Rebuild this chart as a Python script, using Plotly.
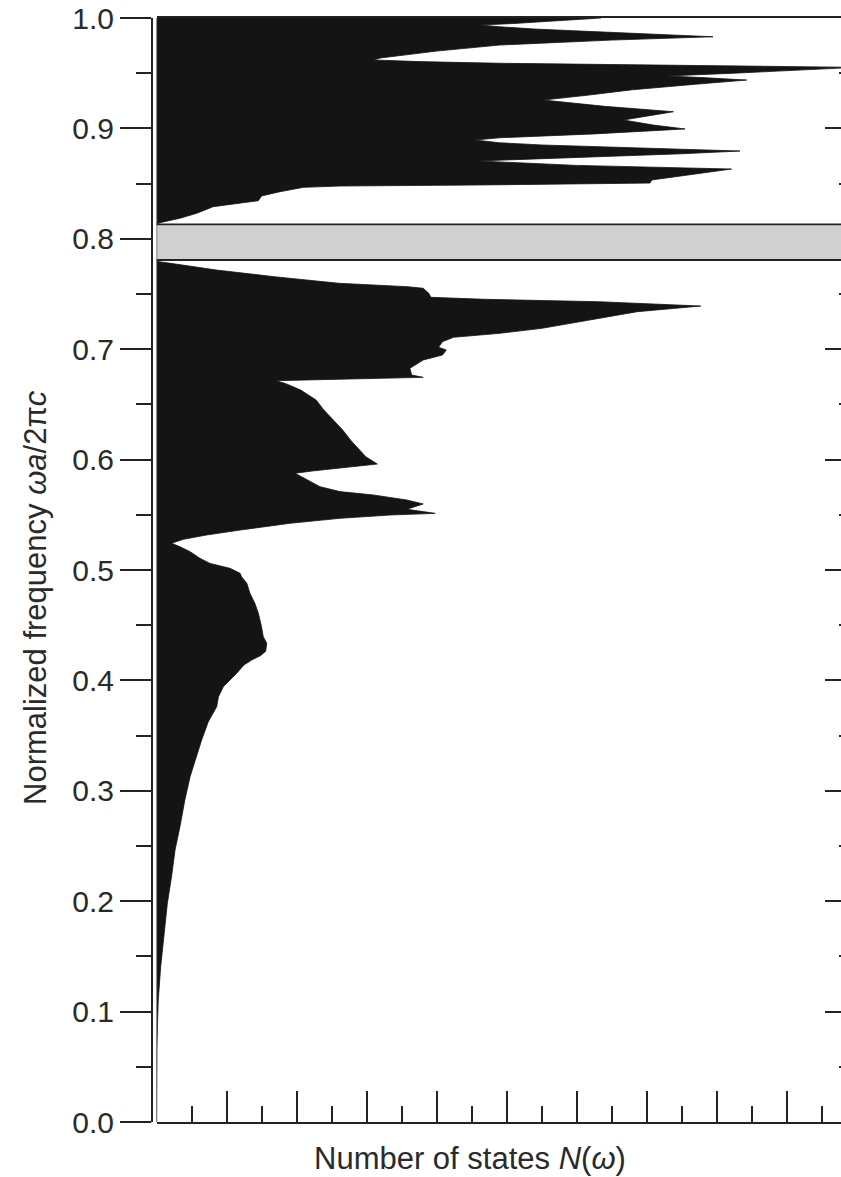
import plotly.graph_objects as go

# Density of states of a 2D photonic crystal: frequency (y) vs. number of states (x)

# Band below the gap: normalized frequency and number of states
freq_low = [0.000, 0.030, 0.065, 0.090, 0.1105, 0.1407, 0.1709, 0.1981, 0.2222, 0.2464,
            0.2675, 0.2917, 0.3128, 0.3279, 0.3460, 0.3626, 0.3762, 0.3852, 0.3943, 0.4064,
            0.4140, 0.4185, 0.4225, 0.4265, 0.4336, 0.4396, 0.4487, 0.4608, 0.4698, 0.4789, 0.4880,
            0.4939, 0.4970, 0.5015, 0.5060, 0.5106, 0.5166, 0.5211, 0.5242, 0.5278, 0.5317,
            0.5362, 0.5423, 0.5468, 0.5498, 0.5513, 0.5550, 0.5598, 0.5634, 0.5680, 0.5710,
            0.5755, 0.5815, 0.5876, 0.5897, 0.5920, 0.5960, 0.6026, 0.6087, 0.6178, 0.6268,
            0.6359, 0.6450, 0.6540, 0.6630, 0.6690, 0.6715, 0.6745, 0.6766, 0.6827, 0.6902,
            0.6947, 0.6993, 0.7017, 0.7068, 0.7108, 0.7144, 0.7189, 0.7264, 0.7340, 0.7391,
            0.7430, 0.7452, 0.7470, 0.7506, 0.7552, 0.7566, 0.7597, 0.7657, 0.7717, 0.7778,
            0.7793, 0.7808]
states_low = [0.00, 0.00, 0.01, 0.03, 0.05, 0.12, 0.21, 0.31, 0.43, 0.53,
              0.67, 0.81, 0.96, 1.10, 1.29, 1.48, 1.72, 1.77, 1.91, 2.29,
              2.50, 2.72, 2.98, 3.12, 3.15, 3.05, 3.00, 2.91, 2.81, 2.67, 2.58,
              2.43, 2.39, 2.10, 1.53, 1.24, 0.96, 0.67, 0.43, 0.77, 1.43,
              2.39, 3.81, 5.24, 6.67, 7.96, 7.15, 7.62, 7.15, 6.19, 5.24,
              4.67, 4.30, 3.96, 4.45, 5.21, 6.31, 5.98, 5.81, 5.54, 5.32,
              5.05, 4.78, 4.56, 4.12, 3.68, 3.41, 7.62, 7.29, 7.24, 7.62,
              8.17, 8.28, 8.06, 8.17, 8.49, 9.81, 11.01, 12.43, 13.74, 15.55,
              12.65, 9.37, 7.84, 7.78, 7.62, 7.18, 5.21, 3.36, 1.71, 0.40,
              0.07, 0.00]

# Band above the gap
freq_high = [0.8131, 0.8146, 0.8186, 0.8231, 0.8291, 0.8321, 0.8345, 0.8388, 0.8427, 0.8466,
             0.8478, 0.8487, 0.8496, 0.8505, 0.8533, 0.8580, 0.8632, 0.8665, 0.8698, 0.8705,
             0.8712, 0.8740, 0.8770, 0.8795, 0.8820, 0.8850, 0.8870, 0.8895, 0.8915, 0.8950,
             0.8995, 0.9030, 0.9076, 0.9110, 0.9151, 0.9200, 0.9257, 0.9300, 0.9350, 0.9400,
             0.9438, 0.9460, 0.9475, 0.9500, 0.9520, 0.9550, 0.9555, 0.9570, 0.9590, 0.9605,
             0.9620, 0.9638, 0.9700, 0.9755, 0.9800, 0.9830, 0.9860, 0.9900, 0.9921, 0.9937,
             0.9950, 0.9980, 1.0000]
states_high = [0.00, 0.10, 0.67, 1.15, 1.62, 2.39, 2.91, 3.00, 3.53, 4.20,
               5.24, 9.05, 10.96, 14.10, 14.15, 15.30, 16.43, 12.00, 9.80, 9.20,
               9.80, 12.50, 15.00, 16.67, 14.00, 11.00, 9.80, 9.10, 9.80, 12.50,
               15.10, 14.20, 13.34, 14.00, 14.77, 12.80, 11.05, 12.30, 13.60, 15.40,
               16.86, 15.60, 14.58, 16.50, 18.00, 19.80, 19.50, 15.00, 9.80, 7.50,
               6.20, 6.40, 8.00, 9.80, 13.00, 15.90, 13.50, 10.80, 9.80, 9.24,
               10.20, 11.80, 12.70]

# Complete photonic band gap
GAP_LOW = 0.7808
GAP_HIGH = 0.8131

y_ticks = [0.0, 0.1, 0.2, 0.3, 0.4, 0.5, 0.6, 0.7, 0.8, 0.9, 1.0]
y_ticktext = ["0.0", "0.1", "0.2", "0.3", "0.4", "0.5", "0.6", "0.7", "0.8", "0.9", "1.0"]

W, H = 841, 1177
M_T, M_B = 18, 55
PLOT_LEFT_PX = 156.5
YAXIS_PX = 152
X_MAX = (W - PLOT_LEFT_PX) / 35.0

FONT = "Liberation Sans, Arial, Helvetica, sans-serif"
INK = "#141414"
AXC = "#222222"
TXT = "#2a2a2a"

fig = go.Figure()

fig.add_trace(go.Scatter(
    x=states_low, y=freq_low, mode="lines", fill="tozerox",
    fillcolor=INK, line=dict(color=INK, width=0.8), hoverinfo="skip",
    showlegend=False, yaxis="y"))

fig.add_trace(go.Scatter(
    x=states_high, y=freq_high, mode="lines", fill="tozerox",
    fillcolor=INK, line=dict(color=INK, width=0.8), hoverinfo="skip",
    showlegend=False, yaxis="y2"))

# gap band: grey fill, edges along both band limits, running off the right side
fig.add_shape(type="rect", xref="x", yref="y", x0=0, x1=X_MAX, y0=GAP_LOW, y1=GAP_HIGH,
              fillcolor="#d0d0d0", line=dict(width=0), layer="above")
for edge in (GAP_LOW, GAP_HIGH):
    fig.add_shape(type="line", xref="x", yref="y", x0=0, x1=X_MAX, y0=edge, y1=edge,
                  line=dict(color=AXC, width=1.8), layer="above")
# inner frame line at zero states
fig.add_shape(type="line", xref="x", yref="y", x0=0, x1=0, y0=0, y1=1,
              line=dict(color="#555555", width=1.4), layer="above")

fig.update_layout(
    width=W, height=H,
    margin=dict(l=0, r=0, t=M_T, b=M_B),
    paper_bgcolor="white", plot_bgcolor="white",
    font=dict(family=FONT, color=AXC, size=30),
    xaxis=dict(
        domain=[PLOT_LEFT_PX / W, 1.0], range=[0, X_MAX],
        showgrid=False, zeroline=False, showline=True, linecolor=AXC, linewidth=2,
        mirror=True, ticks="inside", ticklen=31, tickwidth=2, tickcolor=AXC,
        tick0=0, dtick=2, showticklabels=False,
        minor=dict(ticks="inside", ticklen=16, tickwidth=2, tickcolor=AXC, dtick=1, tick0=0),
    ),
    yaxis=dict(
        anchor="free", position=YAXIS_PX / W, range=[0, 1],
        showgrid=False, zeroline=False, showline=True, linecolor=AXC, linewidth=2,
        ticks="outside", ticklen=31, tickwidth=2, tickcolor=AXC,
        tickmode="array", tickvals=y_ticks, ticktext=y_ticktext,
        tickfont=dict(size=30, color=TXT),
        minor=dict(ticks="outside", ticklen=15, tickwidth=2, tickcolor=AXC, dtick=0.05, tick0=0),
    ),
    yaxis2=dict(
        overlaying="y", side="right", anchor="x", range=[0, 1],
        showgrid=False, zeroline=False, showline=False,
        ticks="inside", ticklen=16, tickwidth=2, tickcolor=AXC,
        tickmode="array", tickvals=y_ticks, showticklabels=False,
        minor=dict(ticks="inside", ticklen=2, tickwidth=2, tickcolor=AXC, dtick=0.05, tick0=0),
    ),
)

fig.add_annotation(
    text="Number of states <i>N</i>(<i>ω</i>)", xref="paper", yref="paper",
    x=470 / W, y=(H - M_B - 1158) / (H - M_T - M_B),
    xanchor="center", yanchor="middle", showarrow=False,
    font=dict(size=31, color=TXT, family=FONT))

fig.add_annotation(
    text="Normalized frequency <i>ωa</i>/2π<i>c</i>", xref="paper", yref="paper",
    x=35 / W, y=(H - M_B - 598) / (H - M_T - M_B),
    xanchor="center", yanchor="middle", textangle=-90, showarrow=False,
    font=dict(size=31, color=TXT, family=FONT))

fig.write_html("out.html")
